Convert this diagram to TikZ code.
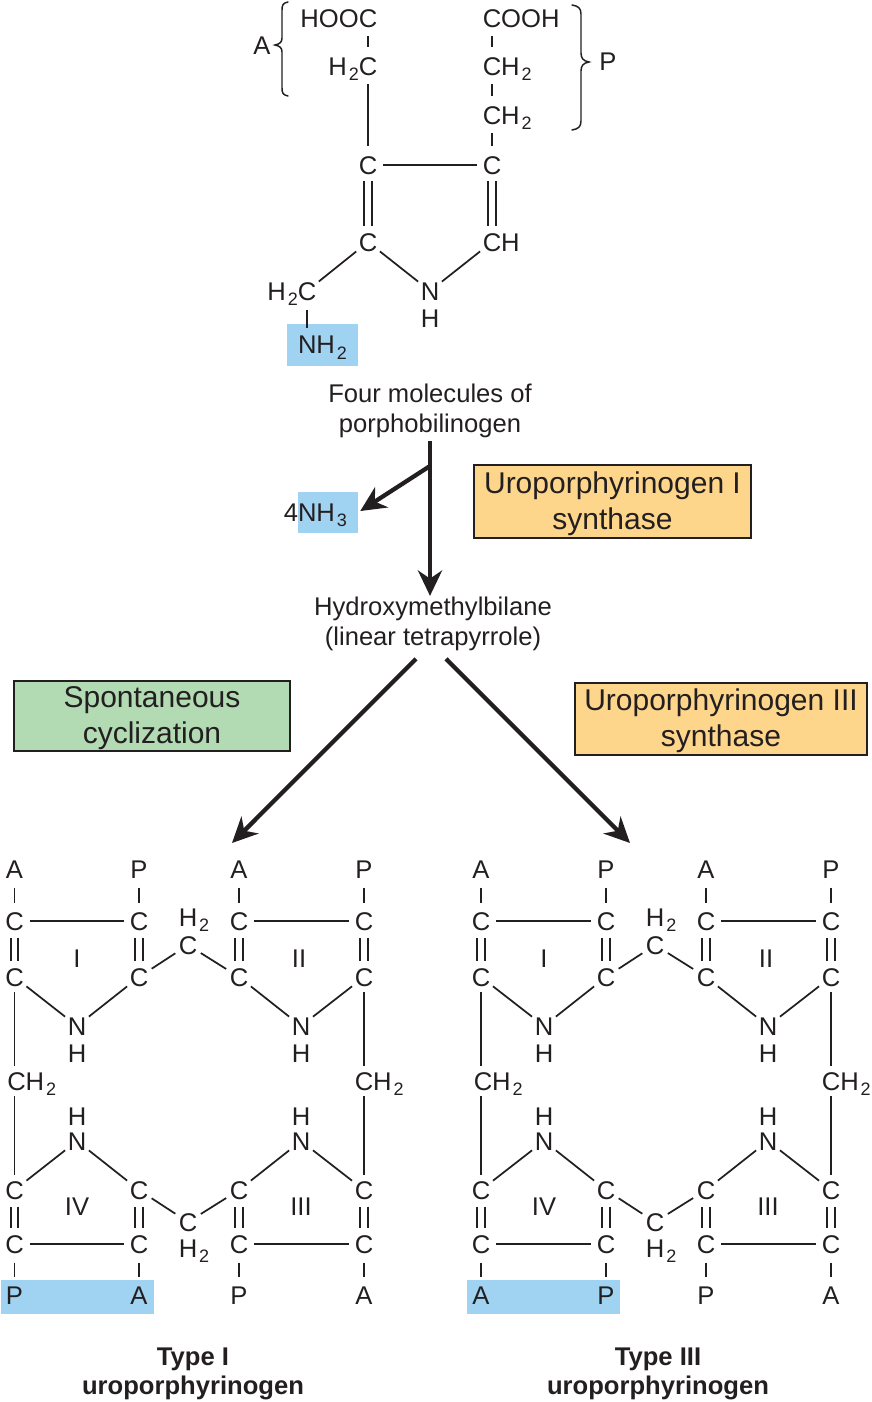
\documentclass[tikz,border=0pt]{standalone}
\usepackage{fontspec}
\setmainfont{Liberation Sans}
\usetikzlibrary{arrows.meta}

\definecolor{inkdark}{HTML}{231F20}
\definecolor{boxblue}{HTML}{A0D2F1}
\definecolor{boxorange}{HTML}{FDD58B}
\definecolor{boxgreen}{HTML}{B2DAB3}

\newcommand{\lowtwo}[1]{\kern1.5pt\raisebox{-4.2pt}[0pt][0pt]{\fontsize{13.5}{14}\selectfont #1}}

\tikzset{every picture/.style={line width=0.75pt}}
\tikzset{
  atom/.style={circle,inner sep=0pt,minimum size=22pt,text height=14pt,text depth=0pt,text=inkdark,font=\fontsize{19.2}{22}\selectfont},
  bond/.style={draw=inkdark,line width=1.3pt},
  stub/.style={bond,shorten <=2.5pt,shorten >=2.5pt},
  dbond/.style={draw=inkdark,line width=1.25pt,double,double distance=4.4pt,shorten <=1pt,shorten >=1pt},
  caption/.style={inner sep=2pt,align=center,text=inkdark,font=\fontsize{19.2}{22.5}\selectfont},
  typename/.style={inner sep=2pt,align=center,text=inkdark,font=\bfseries\fontsize{19.2}{22}\selectfont},
  enzyme/.style={draw=inkdark,line width=1.1pt,inner sep=0pt,align=center,text=inkdark,font=\fontsize{22.5}{27}\selectfont,execute at begin node=\rule{0pt}{46.5pt}},
  bluebox/.style={fill=boxblue,inner sep=0pt,text=inkdark,font=\fontsize{19.2}{22}\selectfont},
  thick arrow/.style={draw=inkdark,line width=3.2pt,-{Stealth[length=19pt,width=18pt,inset=6pt]}},
  brace line/.style={draw=inkdark,line width=1.1pt,line cap=round}
}

\begin{document}
\begin{tikzpicture}[x=0.75pt,y=0.75pt,yscale=-1,xscale=1]
        \useasboundingbox (0,0) rectangle (871,1402);

        %Blue Boxes
        \node [bluebox,minimum width=53.25pt,minimum height=31.5pt] (boxNHb) at (322.5,345) {NH\lowtwo{2}};
        \node [bluebox,minimum width=45pt,minimum height=30.75pt] (boxNHc) at (327.5,512.5) {\llap{4}NH\lowtwo{3}\kern7.5pt};
        \node [bluebox,minimum width=114.75pt,minimum height=25.5pt] (lband) at (77.5,1297) {};
        \node [bluebox,minimum width=114.75pt,minimum height=25.5pt] (rband) at (543.5,1297) {};

        %Pyrrole Atoms
        \node [atom] (tCa) at (368,18) {\llap{HOO}C};
        \node [atom] (tCb) at (492,18) {C\rlap{OOH}};
        \node [atom] (tCc) at (368,66) {\llap{H\lowtwo{2}}C};
        \node [atom] (tCd) at (492,66) {C\rlap{H\lowtwo{2}}};
        \node [atom] (tCe) at (492,115) {C\rlap{H\lowtwo{2}}};
        \node [atom] (tCf) at (368,165) {C};
        \node [atom] (tCg) at (492,165) {C};
        \node [atom] (tCh) at (368,242) {C};
        \node [atom] (tCi) at (492,242) {C\rlap{H}};
        \node [atom] (tNa) at (430,291) {N};
        \node [atom] (tHa) at (430,318) {H};
        \node [atom] (tCj) at (307,291) {\llap{H\lowtwo{2}}C};
        \node [atom] (tAcid) at (262,45) {A};
        \node [atom] (tProp) at (608,61) {P};

        %Pyrrole Bonds
        \draw [stub]    (tCa) -- (tCc) ;
        \draw [bond,shorten <=2.5pt,shorten >=2.5pt]    (tCc) -- (tCf) ;
        \draw [stub]    (tCb) -- (tCd) ;
        \draw [stub]    (tCd) -- (tCe) ;
        \draw [stub]    (tCe) -- (tCg) ;
        \draw [bond]    (tCf) -- (tCg) ;
        \draw [dbond]    (tCf) -- (tCh) ;
        \draw [dbond]    (tCg) -- (tCi) ;
        \draw [bond]    (tCh) -- (tNa) ;
        \draw [bond]    (tCi) -- (tNa) ;
        \draw [bond]    (tCh) -- (tCj) ;
        \draw [bond,shorten <=2.5pt,shorten >=-3pt]    (tCj) -- (tCj |- boxNHb.north) ;

        %Curve Lines
        \draw [brace line]    (288,2) .. controls (283,3) and (282,5) .. (282,10) -- (282,38) .. controls (282,42) and (280,44) .. (275,45) .. controls (280,46) and (282,48) .. (282,52) -- (282,88) .. controls (282,93) and (283,95) .. (288,96) ;
        \draw [brace line]    (572,5) .. controls (578,6) and (581,8) .. (581,14) -- (581,53) .. controls (581,58) and (583,61) .. (589,62) .. controls (583,63) and (581,66) .. (581,71) -- (581,121) .. controls (581,127) and (578,129) .. (572,130) ;

        %Text Labels
        \node [caption] (fourmol) at (430,411) {Four molecules of\\porphobilinogen};
        \node [caption,inner sep=5.5pt] (hmb) at (433,624) {Hydroxymethylbilane\\(linear tetrapyrrole)};

        %Enzyme Boxes
        \node [enzyme,fill=boxorange,minimum width=207.75pt,minimum height=54.75pt] (synthI) at (612.5,501.5) {Uroporphyrinogen I\\synthase};
        \node [enzyme,fill=boxgreen,minimum width=207pt,minimum height=52.5pt] (cycliz) at (152,716) {Spontaneous\\cyclization};
        \node [enzyme,fill=boxorange,minimum width=219pt,minimum height=54pt] (synthIII) at (721,719) {Uroporphyrinogen III\\synthase};

        %Straight Lines
        \coordinate (branch) at (430,466);
        \coordinate (tipI) at (232,843);
        \coordinate (tipIII) at (630,843);
        \draw [thick arrow,shorten >=-5pt]    (fourmol.south) -- (fourmol.south |- hmb.north) ;
        \draw [thick arrow,shorten >=2pt]    (branch) -- (boxNHc.east) ;
        \draw [thick arrow]    ([xshift=-12.75pt]hmb.south) -- (tipI) ;
        \draw [thick arrow]    ([xshift=9.75pt]hmb.south) -- (tipIII) ;

        %Type I Atoms
        \node [atom] (lAa) at (14.5,869) {A};
        \node [atom] (lPa) at (139,869) {P};
        \node [atom] (lAb) at (239,869) {A};
        \node [atom] (lPb) at (364,869) {P};
        \node [atom] (lCa) at (14.5,921) {C};
        \node [atom] (lCb) at (139,921) {C};
        \node [atom] (lCc) at (239,921) {C};
        \node [atom] (lCd) at (364,921) {C};
        \node [atom] (lCe) at (14.5,977) {C};
        \node [atom] (lCf) at (139,977) {C};
        \node [atom] (lCg) at (239,977) {C};
        \node [atom] (lCh) at (364,977) {C};
        \node [atom] (lCm) at (188,945) {C};
        \node [atom] (lHm) at (188,917) {H\rlap{\lowtwo{2}}};
        \node [atom] (lNa) at (77,1026) {N};
        \node [atom] (lHa) at (77,1053) {H};
        \node [atom] (lNb) at (301,1026) {N};
        \node [atom] (lHb) at (301,1053) {H};
        \node [atom] (lCs) at (14.5,1081) {\kern3pt C\rlap{H\lowtwo{2}}};
        \node [atom] (lCt) at (364,1081) {C\rlap{H\lowtwo{2}}};
        \node [atom] (lHc) at (77,1116) {H};
        \node [atom] (lNc) at (77,1141) {N};
        \node [atom] (lHd) at (301,1116) {H};
        \node [atom] (lNd) at (301,1141) {N};
        \node [atom] (lCi) at (14.5,1190) {C};
        \node [atom] (lCj) at (139,1190) {C};
        \node [atom] (lCk) at (239,1190) {C};
        \node [atom] (lCl) at (364,1190) {C};
        \node [atom] (lCn) at (14.5,1244) {C};
        \node [atom] (lCo) at (139,1244) {C};
        \node [atom] (lCp) at (239,1244) {C};
        \node [atom] (lCq) at (364,1244) {C};
        \node [atom] (lCr) at (188,1222) {C};
        \node [atom] (lHr) at (188,1248) {H\rlap{\lowtwo{2}}};
        \node [atom] (lPc) at (14.5,1295) {P};
        \node [atom] (lAc) at (139,1295) {A};
        \node [atom] (lPd) at (239,1295) {P};
        \node [atom] (lAd) at (364,1295) {A};

        %Type I Ring Numbers
        \node [atom] (lringa) at (77,958) {I};
        \node [atom] (lringb) at (299,958) {II};
        \node [atom] (lringc) at (301,1206) {III};
        \node [atom] (lringd) at (77,1206) {IV};

        %Type I Bonds
        \draw [stub]    (lAa) -- (lCa) ;
        \draw [stub]    (lPa) -- (lCb) ;
        \draw [stub]    (lAb) -- (lCc) ;
        \draw [stub]    (lPb) -- (lCd) ;
        \draw [bond]    (lCa) -- (lCb) ;
        \draw [bond]    (lCc) -- (lCd) ;
        \draw [dbond]    (lCa) -- (lCe) ;
        \draw [dbond]    (lCb) -- (lCf) ;
        \draw [dbond]    (lCc) -- (lCg) ;
        \draw [dbond]    (lCd) -- (lCh) ;
        \draw [bond]    (lCe) -- (lNa) ;
        \draw [bond]    (lNa) -- (lCf) ;
        \draw [bond]    (lCf) -- (lCm) ;
        \draw [bond]    (lCm) -- (lCg) ;
        \draw [bond]    (lCg) -- (lNb) ;
        \draw [bond]    (lNb) -- (lCh) ;
        \draw [bond]    (lCe) -- (lCs) ;
        \draw [bond]    (lCs) -- (lCi) ;
        \draw [bond]    (lCh) -- (lCt) ;
        \draw [bond]    (lCt) -- (lCl) ;
        \draw [bond]    (lCi) -- (lNc) ;
        \draw [bond]    (lNc) -- (lCj) ;
        \draw [bond]    (lCj) -- (lCr) ;
        \draw [bond]    (lCr) -- (lCk) ;
        \draw [bond]    (lCk) -- (lNd) ;
        \draw [bond]    (lNd) -- (lCl) ;
        \draw [dbond]    (lCi) -- (lCn) ;
        \draw [dbond]    (lCj) -- (lCo) ;
        \draw [dbond]    (lCk) -- (lCp) ;
        \draw [dbond]    (lCl) -- (lCq) ;
        \draw [bond]    (lCn) -- (lCo) ;
        \draw [bond]    (lCp) -- (lCq) ;
        \draw [stub]    (lCn) -- (lPc) ;
        \draw [stub]    (lCo) -- (lAc) ;
        \draw [stub]    (lCp) -- (lPd) ;
        \draw [stub]    (lCq) -- (lAd) ;

        \node [typename] (ltype) at (193,1374) {Type I\\uroporphyrinogen};

        %Type III Atoms
        \node [atom] (rAa) at (481,869) {A};
        \node [atom] (rPa) at (606,869) {P};
        \node [atom] (rAb) at (706,869) {A};
        \node [atom] (rPb) at (831,869) {P};
        \node [atom] (rCa) at (481,921) {C};
        \node [atom] (rCb) at (606,921) {C};
        \node [atom] (rCc) at (706,921) {C};
        \node [atom] (rCd) at (831,921) {C};
        \node [atom] (rCe) at (481,977) {C};
        \node [atom] (rCf) at (606,977) {C};
        \node [atom] (rCg) at (706,977) {C};
        \node [atom] (rCh) at (831,977) {C};
        \node [atom] (rCm) at (655,945) {C};
        \node [atom] (rHm) at (655,917) {H\rlap{\lowtwo{2}}};
        \node [atom] (rNa) at (544,1026) {N};
        \node [atom] (rHa) at (544,1053) {H};
        \node [atom] (rNb) at (768,1026) {N};
        \node [atom] (rHb) at (768,1053) {H};
        \node [atom] (rCs) at (481,1081) {\kern3pt C\rlap{H\lowtwo{2}}};
        \node [atom] (rCt) at (831,1081) {C\rlap{H\lowtwo{2}}};
        \node [atom] (rHc) at (544,1116) {H};
        \node [atom] (rNc) at (544,1141) {N};
        \node [atom] (rHd) at (768,1116) {H};
        \node [atom] (rNd) at (768,1141) {N};
        \node [atom] (rCi) at (481,1190) {C};
        \node [atom] (rCj) at (606,1190) {C};
        \node [atom] (rCk) at (706,1190) {C};
        \node [atom] (rCl) at (831,1190) {C};
        \node [atom] (rCn) at (481,1244) {C};
        \node [atom] (rCo) at (606,1244) {C};
        \node [atom] (rCp) at (706,1244) {C};
        \node [atom] (rCq) at (831,1244) {C};
        \node [atom] (rCr) at (655,1222) {C};
        \node [atom] (rHr) at (655,1248) {H\rlap{\lowtwo{2}}};
        \node [atom] (rAc) at (481,1295) {A};
        \node [atom] (rPc) at (606,1295) {P};
        \node [atom] (rPd) at (706,1295) {P};
        \node [atom] (rAd) at (831,1295) {A};

        %Type III Ring Numbers
        \node [atom] (rringa) at (544,958) {I};
        \node [atom] (rringb) at (766,958) {II};
        \node [atom] (rringc) at (768,1206) {III};
        \node [atom] (rringd) at (544,1206) {IV};

        %Type III Bonds
        \draw [stub]    (rAa) -- (rCa) ;
        \draw [stub]    (rPa) -- (rCb) ;
        \draw [stub]    (rAb) -- (rCc) ;
        \draw [stub]    (rPb) -- (rCd) ;
        \draw [bond]    (rCa) -- (rCb) ;
        \draw [bond]    (rCc) -- (rCd) ;
        \draw [dbond]    (rCa) -- (rCe) ;
        \draw [dbond]    (rCb) -- (rCf) ;
        \draw [dbond]    (rCc) -- (rCg) ;
        \draw [dbond]    (rCd) -- (rCh) ;
        \draw [bond]    (rCe) -- (rNa) ;
        \draw [bond]    (rNa) -- (rCf) ;
        \draw [bond]    (rCf) -- (rCm) ;
        \draw [bond]    (rCm) -- (rCg) ;
        \draw [bond]    (rCg) -- (rNb) ;
        \draw [bond]    (rNb) -- (rCh) ;
        \draw [bond]    (rCe) -- (rCs) ;
        \draw [bond]    (rCs) -- (rCi) ;
        \draw [bond]    (rCh) -- (rCt) ;
        \draw [bond]    (rCt) -- (rCl) ;
        \draw [bond]    (rCi) -- (rNc) ;
        \draw [bond]    (rNc) -- (rCj) ;
        \draw [bond]    (rCj) -- (rCr) ;
        \draw [bond]    (rCr) -- (rCk) ;
        \draw [bond]    (rCk) -- (rNd) ;
        \draw [bond]    (rNd) -- (rCl) ;
        \draw [dbond]    (rCi) -- (rCn) ;
        \draw [dbond]    (rCj) -- (rCo) ;
        \draw [dbond]    (rCk) -- (rCp) ;
        \draw [dbond]    (rCl) -- (rCq) ;
        \draw [bond]    (rCn) -- (rCo) ;
        \draw [bond]    (rCp) -- (rCq) ;
        \draw [stub]    (rCn) -- (rAc) ;
        \draw [stub]    (rCo) -- (rPc) ;
        \draw [stub]    (rCp) -- (rPd) ;
        \draw [stub]    (rCq) -- (rAd) ;

        \node [typename] (rtype) at (658,1374) {Type III\\uroporphyrinogen};
\end{tikzpicture}
\end{document}
